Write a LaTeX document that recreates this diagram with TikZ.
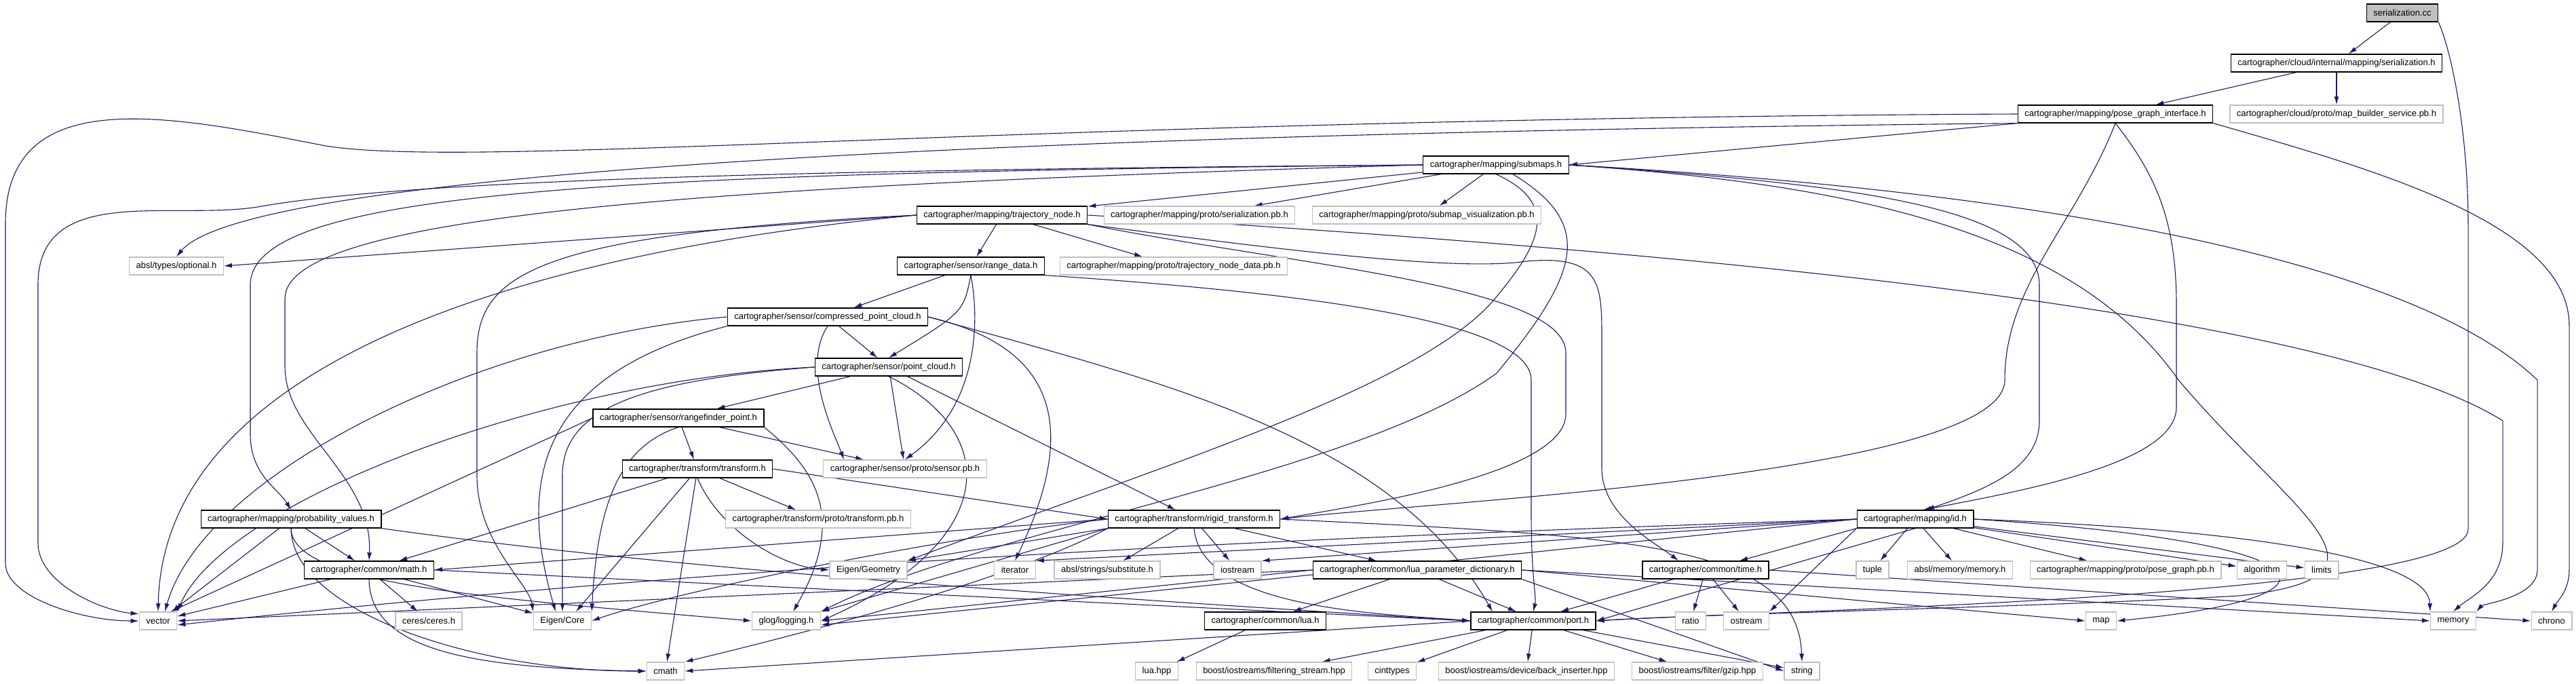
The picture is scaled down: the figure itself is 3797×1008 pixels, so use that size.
\documentclass[tikz,border=0pt]{standalone}
\usepackage{fontspec}
\setmainfont{Liberation Sans}
\usetikzlibrary{arrows.meta,backgrounds}
\definecolor{edgeblue}{HTML}{191970}
\definecolor{extgray}{HTML}{BFBFBF}
\begin{document}
\begin{tikzpicture}[
    x=1pt, y=-1pt,
    font=\fontsize{13}{15}\selectfont,
    file/.style={
      draw=black, line width=1.3pt, fill=white,
      inner xsep=10pt, inner ysep=0pt, minimum height=26pt
    },
    ext/.style={file, draw=extgray},
    root/.style={file, fill=extgray},
    arr/.style={draw=edgeblue, line width=1.1pt, -{Latex[length=12pt,width=7pt]}}
  ]
    \useasboundingbox (0,0) rectangle (3797,1008);

    \node[root] (cc) at (3541,19) {serialization.cc};
    \node[file] (serh) at (3444,93) {cartographer/cloud/internal/mapping/serialization.h};
    \node[file] (pgi) at (3118,168) {cartographer/mapping/pose\_graph\_interface.h};
    \node[ext] (mbs) at (3444,168) {cartographer/cloud/proto/map\_builder\_service.pb.h};
    \node[file] (submaps) at (2205,243) {cartographer/mapping/submaps.h};
    \node[file] (trajnode) at (1477,317) {cartographer/mapping/trajectory\_node.h};
    \node[ext] (serpb) at (1768,317) {cartographer/mapping/proto/serialization.pb.h};
    \node[ext] (subvis) at (2103,317) {cartographer/mapping/proto/submap\_visualization.pb.h};
    \node[ext] (optional) at (260,392) {absl/types/optional.h};
    \node[file] (rangedata) at (1431,392) {cartographer/sensor/range\_data.h};
    \node[ext] (tndpb) at (1730,392) {cartographer/mapping/proto/trajectory\_node\_data.pb.h};
    \node[file] (cpc) at (1220,467) {cartographer/sensor/compressed\_point\_cloud.h};
    \node[file] (pc) at (1310,541) {cartographer/sensor/point\_cloud.h};
    \node[file] (rfp) at (1000,616) {cartographer/sensor/rangefinder\_point.h};
    \node[file] (tf) at (1028,691) {cartographer/transform/transform.h};
    \node[ext] (sensorpb) at (1334,691) {cartographer/sensor/proto/sensor.pb.h};
    \node[file] (probval) at (429,765) {cartographer/mapping/probability\_values.h};
    \node[ext] (tfpb) at (1206,765) {cartographer/transform/proto/transform.pb.h};
    \node[file] (rigid) at (1760,765) {cartographer/transform/rigid\_transform.h};
    \node[file] (idh) at (2823,765) {cartographer/mapping/id.h};
    \node[file] (math) at (544,840) {cartographer/common/math.h};
    \node[ext] (eigengeom) at (1280,840) {Eigen/Geometry};
    \node[ext] (iterator) at (1496,840) {iterator};
    \node[ext] (subst) at (1632,840) {absl/strings/substitute.h};
    \node[ext] (iostream) at (1824,840) {iostream};
    \node[file] (luadict) at (2089,840) {cartographer/common/lua\_parameter\_dictionary.h};
    \node[file] (time) at (2514,840) {cartographer/common/time.h};
    \node[ext] (tuple) at (2760,840) {tuple};
    \node[ext] (abslmem) at (2889,840) {absl/memory/memory.h};
    \node[ext] (pgpb) at (3133,840) {cartographer/mapping/proto/pose\_graph.pb.h};
    \node[ext] (algorithm) at (3334,840) {algorithm};
    \node[ext] (limits) at (3422,840) {limits};
    \node[ext] (vector) at (233,915) {vector};
    \node[ext] (ceres) at (632,915) {ceres/ceres.h};
    \node[ext] (eigencore) at (829,915) {Eigen/Core};
    \node[ext] (glog) at (1159,915) {glog/logging.h};
    \node[file] (lua) at (1865,915) {cartographer/common/lua.h};
    \node[file] (port) at (2260,915) {cartographer/common/port.h};
    \node[ext] (ratio) at (2492,915) {ratio};
    \node[ext] (ostream) at (2574,915) {ostream};
    \node[ext] (map) at (3097,915) {map};
    \node[ext] (memory) at (3616,915) {memory};
    \node[ext] (chrono) at (3761,915) {chrono};
    \node[ext] (cmath) at (981,989) {cmath};
    \node[ext] (luahpp) at (1705,989) {lua.hpp};
    \node[ext] (filtstream) at (1878,989) {boost/iostreams/filtering\_stream.hpp};
    \node[ext] (cinttypes) at (2052,989) {cinttypes};
    \node[ext] (backins) at (2250,989) {boost/iostreams/device/back\_inserter.hpp};
    \node[ext] (gzip) at (2502,989) {boost/iostreams/filter/gzip.hpp};
    \node[ext] (string) at (2656,989) {string};

    \begin{pgfonlayer}{background}
    \draw[arr] (cc) -- (serh);
    \draw[arr] (cc.south east) .. controls (3615,80) and (3638,200) .. (3638,330) -- (3638,780)
      .. controls (3638,880) and (2600,900) .. (port.east);
    \draw[arr] (serh) -- (pgi);
    \draw[arr] (serh) -- (mbs);

    \draw[arr] (pgi.west) .. controls (1500,175) and (700,250) .. (480,215)
      .. controls (250,170) and (8,120) .. (8,330) -- (8,830) .. controls (8,880) and (120,915) .. (vector.west);
    \draw[arr] (pgi.south west) .. controls (1200,200) and (350,270) .. (optional.north);
    \draw[arr] (pgi.south west) -- (submaps.east);
    \draw[arr] (pgi.south) .. controls (3060,330) and (2955,420) .. (2955,560)
      .. controls (2955,700) and (2100,740) .. (rigid.east);
    \draw[arr] (pgi.south) .. controls (3180,260) and (3208,330) .. (3208,450) -- (3208,600)
      .. controls (3208,680) and (3000,720) .. (idh.50);
    \draw[arr] (pgi.south east) .. controls (3500,250) and (3787,330) .. (3787,480) -- (3787,840)
      .. controls (3787,870) and (3770,885) .. (chrono.north);

    \draw[arr] (submaps.west) .. controls (1200,250) and (600,265) .. (380,305)
      .. controls (250,325) and (56,270) .. (56,420) -- (56,800) .. controls (56,860) and (150,900) .. (vector.160);
    \draw[arr] (submaps) -- (trajnode);
    \draw[arr] (submaps) -- (serpb);
    \draw[arr] (submaps) -- (subvis);
    \draw[arr] (submaps.west) .. controls (900,255) and (369,280) .. (369,420) -- (369,640)
      .. controls (369,700) and (410,720) .. (probval.north);
    \draw[arr] (submaps.west) .. controls (1000,275) and (420,320) .. (420,440) -- (420,540)
      .. controls (420,640) and (550,700) .. (math.north);
    \draw[arr] (submaps.east) .. controls (2700,265) and (3500,330) .. (3740,560) -- (3740,840)
      .. controls (3740,880) and (3660,890) .. (memory.north east);
    \draw[arr] (submaps.east) .. controls (2700,270) and (3006,300) .. (3006,420) -- (3006,620)
      .. controls (3006,690) and (2930,720) .. (idh.40);
    \draw[arr] (submaps.east) .. controls (2700,270) and (3050,330) .. (3211,560)
      .. controls (3380,760) and (3560,850) .. (3300,878) .. controls (3000,895) and (2500,905) .. (port.east);
    \draw[arr] (submaps.south) .. controls (2300,300) and (2270,360) .. (2206,437)
      .. controls (2100,570) and (1700,690) .. (eigengeom.north east);
    \draw[arr] ([xshift=25pt]submaps.south) .. controls (2350,330) and (2330,400) .. (2206,550)
      .. controls (2000,700) and (1450,780) .. (glog.north east);

    \draw[arr] (trajnode.west) .. controls (700,380) and (240,560) .. (vector.north);
    \draw[arr] (trajnode.west) .. controls (800,345) and (703,400) .. (703,520) -- (703,700)
      .. controls (703,800) and (780,860) .. (eigencore.north west);
    \draw[arr] (trajnode.west) -- (optional.east);
    \draw[arr] (trajnode.east) .. controls (2300,360) and (3400,440) .. (3689,620) -- (3689,800)
      .. controls (3689,860) and (3640,880) .. (memory.north);
    \draw[arr] (trajnode.south east) .. controls (1900,370) and (2150,400) .. (2250,385)
      .. controls (2361,375) and (2361,420) .. (2361,500) -- (2361,690)
      .. controls (2361,760) and (2440,800) .. ([xshift=-40pt]time.north);
    \draw[arr] (trajnode.south east) .. controls (1900,390) and (2308,420) .. (2308,520) -- (2308,610)
      .. controls (2308,700) and (2000,745) .. (rigid.east);
    \draw[arr] (trajnode) -- (tndpb);
    \draw[arr] (trajnode) -- (rangedata);

    \draw[arr] (rangedata) -- (cpc);
    \draw[arr] (rangedata.south) .. controls (1420,460) .. (pc.north);
    \draw[arr] (rangedata.south) .. controls (1445,480) and (1440,600) .. (sensorpb.north);
    \draw[arr] (rangedata.south east) .. controls (1900,430) and (2257,470) .. (2257,560) -- (2257,760)
      .. controls (2257,850) and (2265,880) .. (port.north);

    \draw[arr] (cpc) -- (pc);
    \draw[arr] (cpc.south) .. controls (1180,540) and (1230,640) .. ([xshift=-90pt]sensorpb.north);
    \draw[arr] (cpc.east) .. controls (1550,510) and (1595,620) .. (iterator.north);
    \draw[arr] (cpc.west) .. controls (700,500) and (300,700) .. ([xshift=10pt]vector.north);
    \draw[arr] (cpc.south west) .. controls (800,550) and (760,700) .. ([xshift=-10pt]eigencore.north);
    \draw[arr] (cpc.east) .. controls (1700,560) and (2050,640) .. ([xshift=-60pt]port.north);

    \draw[arr] (pc.west) .. controls (800,560) and (330,740) .. (vector.north east);
    \draw[arr] (pc.west) .. controls (950,560) and (829,600) .. (829,700) -- (eigencore.north);
    \draw[arr] (pc) -- (sensorpb);
    \draw[arr] (pc) -- (rfp);
    \draw[arr] (pc) -- (rigid);
    \draw[arr] (pc.south) .. controls (1480,640) and (1470,800) .. (glog.east);

    \draw[arr] (rfp.west) -- ([xshift=-10pt]vector.north east);
    \draw[arr] (rfp.south) .. controls (905,660) and (880,760) .. (eigencore.north east);
    \draw[arr] (rfp) -- (tf);
    \draw[arr] (rfp) -- (sensorpb);
    \draw[arr] (rfp.south east) .. controls (1200,690) and (1250,760) .. ([xshift=10pt]glog.north);

    \draw[arr] (tf) -- (cmath);
    \draw[arr] (tf) -- (math);
    \draw[arr] (tf) -- ([xshift=20pt]eigencore.north);
    \draw[arr] (tf.south) .. controls (1060,780) and (1150,835) .. (eigengeom.west);
    \draw[arr] (tf) -- (tfpb);
    \draw[arr] (tf.east) -- (rigid.west);

    \draw[arr] (rigid.south west) .. controls (1500,850) and (1200,930) .. (cmath.north east);
    \draw[arr] (rigid) -- (iostream);
    \draw[arr] (rigid) -- (subst);
    \draw[arr] (rigid) -- (luadict);
    \draw[arr] (rigid.east) .. controls (2400,790) and (2650,800) .. (string.north);
    \draw[arr] (rigid.west) .. controls (1400,790) and (1000,870) .. (eigencore.east);
    \draw[arr] (rigid.south west) -- (eigengeom.north east);
    \draw[arr] (rigid.west) -- (math.east);
    \draw[arr] (rigid.south) .. controls (1770,900) and (2050,905) .. (port.west);
    \draw[arr] (rigid.south west) -- (glog.north east);

    \draw[arr] (probval.south) .. controls (430,900) and (700,990) .. (cmath.west);
    \draw[arr] (probval) -- ([xshift=20pt]vector.north);
    \draw[arr] (probval) -- (math);
    \draw[arr] (probval.south east) .. controls (1000,840) and (1600,880) .. (port.west);
    \draw[arr] (probval.south) .. controls (430,860) and (700,880) .. (glog.west);

    \draw[arr] (math.south) .. controls (545,960) and (700,985) .. (cmath.west);
    \draw[arr] (math) -- (vector);
    \draw[arr] (math) -- (ceres);
    \draw[arr] (math) -- (eigencore);
    \draw[arr] (math.east) -- (port.west);

    \draw[arr] (luadict.east) -- (map.west);
    \draw[arr] (luadict.east) -- (memory.west);
    \draw[arr] (luadict.south east) -- (string.west);
    \draw[arr] (luadict.west) -- (vector.east);
    \draw[arr] (luadict) -- (lua);
    \draw[arr] (luadict) -- ([xshift=-25pt]port.north);
    \draw[arr] (luadict.west) -- (glog.east);

    \draw[arr] (lua) -- (luahpp);

    \draw[arr] (time.east) -- (chrono.west);
    \draw[arr] (time) -- (ostream);
    \draw[arr] (time) -- (ratio);
    \draw[arr] (time) -- ([xshift=40pt]port.north);

    \draw[arr] (port) -- (backins);
    \draw[arr] (port) -- (gzip);
    \draw[arr] (port) -- (filtstream);
    \draw[arr] (port) -- (cinttypes);
    \draw[arr] (port.west) -- (cmath.east);
    \draw[arr] (port) -- (string);

    \draw[arr] (idh) -- (algorithm);
    \draw[arr] (idh) -- (limits);
    \draw[arr] (idh) -- (tuple);
    \draw[arr] (idh) -- (abslmem);
    \draw[arr] (idh) -- (pgpb);
    \draw[arr] (idh.east) .. controls (3300,780) and (3580,820) .. (memory.north west);
    \draw[arr] (idh.east) .. controls (3450,800) and (3480,880) .. (map.east);
    \draw[arr] (idh.west) -- (iostream.north east);
    \draw[arr] (idh.west) -- (iterator.north east);
    \draw[arr] (idh.south west) -- (ostream.north east);
    \draw[arr] (idh.west) .. controls (2000,790) and (1200,820) .. ([yshift=-6pt]vector.east);
    \draw[arr] (idh.south) -- (port.east);
    \draw[arr] (idh.south west) -- ([xshift=50pt]time.north);
    \draw[arr] (idh.west) -- ([yshift=-6pt]glog.east);
    \end{pgfonlayer}
  \end{tikzpicture}
\end{document}
